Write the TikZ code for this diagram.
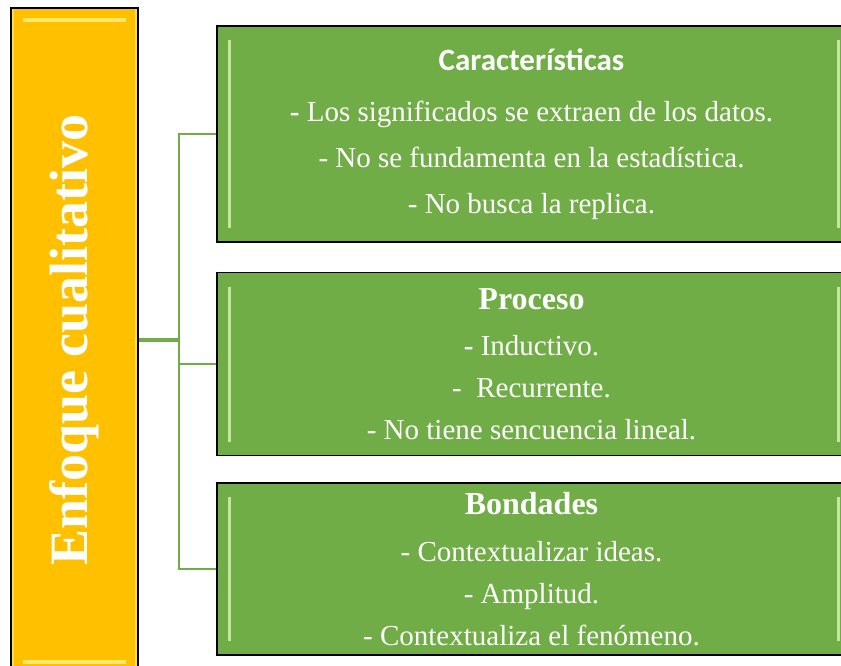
\documentclass[tikz,border=0pt]{standalone}
\usepackage{graphicx}
\usepackage{fontspec}
\setmainfont{Liberation Serif}
\newfontfamily\calibri{Carlito}
\usetikzlibrary{positioning, calc}

\definecolor{enfOrange}{HTML}{FFC000}
\definecolor{enfYellow}{HTML}{FFF07A}
\definecolor{enfGreen}{HTML}{70AD47}
\definecolor{enfLight}{HTML}{D6F0B0}

\begin{document}
\begin{tikzpicture}
    [
        x=1pt, y=-1pt,
        hbevel/.style=
        {
            path picture={
                \draw[#1, line width=3.5pt, opacity=.85]
                    ($(path picture bounding box.north west)+(12pt,-12pt)$) --
                    ($(path picture bounding box.north east)+(-12pt,-12pt)$)
                    ($(path picture bounding box.south west)+(12pt,10pt)$) --
                    ($(path picture bounding box.south east)+(-12pt,10pt)$);
                \draw[#1, line width=2pt, opacity=.6]
                    ($(path picture bounding box.north west)+(2pt,0pt)$) --
                    ($(path picture bounding box.south west)+(2pt,0pt)$)
                    ($(path picture bounding box.north east)+(-2pt,0pt)$) --
                    ($(path picture bounding box.south east)+(-2pt,0pt)$);}
        },
        vbevel/.style=
        {
            path picture={
                \draw[#1, line width=3pt, opacity=.85]
                    ($(path picture bounding box.north west)+(12pt,-14pt)$) --
                    ($(path picture bounding box.south west)+(12pt,14pt)$)
                    ($(path picture bounding box.north east)+(-8pt,-14pt)$) --
                    ($(path picture bounding box.south east)+(-8pt,14pt)$);}
        },
        box/.style={rectangle, draw=black, line width=1.6pt, inner sep=0pt, text=white, align=center},
        mainbox/.style={box, fill=enfOrange, hbevel=enfYellow, minimum width=127pt, minimum height=664pt,
            font=\fontsize{54}{60}\selectfont\bfseries},
        itembox/.style={box, fill=enfGreen, vbevel=enfLight, minimum width=629pt, font=\fontsize{29}{42}\selectfont},
        branch/.style={draw=enfGreen, line width=2pt},
        mainline/.style={draw=enfGreen, line width=3.5pt}
    ]
    \useasboundingbox (0,0) rectangle (841,666);

    \node [mainbox] (enfoque) at (74.5,340) {\rotatebox{90}{Enfoque cualitativo}};

    \node [itembox, minimum height=216pt, font=\fontsize{29}{46}\selectfont] (caract) at (531.5,134)
    {
        {\calibri\bfseries\fontsize{31}{38}\selectfont Características}\\[5pt]
        \textbf{-} Los significados se extraen de los datos.\\
        - No se fundamenta en la estadística.\\
        - No busca la replica.
    };
    \node [itembox, minimum height=183pt, below=29pt of caract] (proceso)
    {
        {\fontsize{32}{38}\selectfont\bfseries Proceso}\\[4pt]
        \textbf{-} Inductivo.\\
        -\ \ Recurrente.\\
        - No tiene sencuencia lineal.
    };
    \node [itembox, minimum height=172pt, below=26pt of proceso] (bondades)
    {
        {\fontsize{32}{38}\selectfont\bfseries Bondades}\\[5pt]
        - Contextualizar ideas.\\
        - Amplitud.\\
        - Contextualiza el fenómeno.
    };

    % conectores
    \coordinate [right=40pt of enfoque.east] (bus);
    \draw [mainline] (enfoque.east) -- (bus);
    \draw [branch] (bus) |- (caract.west);
    \draw [branch] (bus) |- (proceso.west);
    \draw [branch] (bus) |- (bondades.west);
\end{tikzpicture}
\end{document}
